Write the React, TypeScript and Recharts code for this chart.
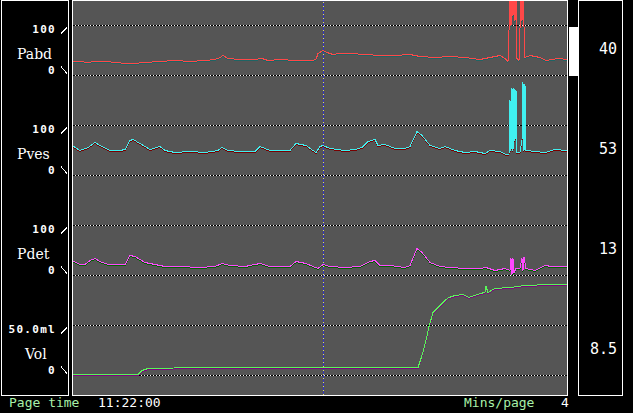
import { ComposedChart, Line, XAxis, YAxis, CartesianGrid, ReferenceLine } from 'recharts';

// time in seconds from page start (4 mins/page)
const pabdTime = [0, 4, 8, 11.5, 16.5, 22.5, 26.5, 30.5, 36.5, 44, 51.5, 59, 66.5, 71.5, 74, 75.5, 78, 84, 91.5, 95, 98, 104, 111.5, 120, 122, 123, 125.5, 127.5, 130.5, 134, 139, 146.5, 154, 161.5, 169, 174, 181.5, 189, 196.5, 204, 209, 214, 216.5, 218, 218.5, 219, 219.5, 220, 220.5, 221, 221.5, 222, 222.5, 223.5, 224.5, 225, 225.5, 226.5, 229, 234, 237, 240, 243, 247.5];
const pabdValues = [28, 28, 26, 28, 28, 26, 24, 24, 26, 28, 30, 28, 30, 32, 36, 40, 34, 32, 32, 34, 30, 32, 30, 30, 32, 44, 50, 46, 42, 44, 44, 42, 40, 40, 42, 38, 36, 38, 36, 32, 36, 40, 34, 28, 90, 160, 100, 160, 120, 160, 110, 160, 34, 30, 160, 110, 160, 36, 40, 36, 30, 32, 34, 32];

const pvesTime = [0, 4, 8, 11.5, 14, 19, 24, 26.5, 29, 30.5, 34, 39, 44, 46.5, 51.5, 59, 66.5, 73, 75, 78, 84, 91.5, 94, 99, 109, 112, 117, 120.5, 122, 124, 125.5, 129, 136.5, 141.5, 145, 148, 151.5, 153, 156.5, 161.5, 166.5, 169, 172.5, 175, 179, 184, 186.5, 191.5, 196.5, 201.5, 206.5, 209, 214, 217, 218.5, 219, 219.5, 220, 220.5, 221, 221.5, 222, 222.5, 224, 225, 225.5, 226, 226.5, 227, 231.5, 236.5, 241.5, 247.5];
const pvesValues = [60, 50, 56, 66, 60, 50, 50, 52, 70, 72, 64, 52, 58, 50, 46, 48, 46, 50, 56, 50, 48, 48, 58, 50, 50, 64, 60, 50, 46, 58, 60, 54, 50, 52, 56, 68, 72, 60, 62, 54, 54, 58, 88, 80, 60, 54, 58, 50, 46, 48, 44, 50, 48, 42, 42, 150, 50, 174, 50, 174, 70, 170, 46, 46, 70, 186, 50, 182, 50, 48, 46, 52, 50];

const pdetTime = [0, 4, 6.5, 9, 11.5, 14, 18, 26.5, 29, 31.5, 36.5, 41.5, 46.5, 54, 64, 71.5, 75, 79, 86.5, 94, 99, 109, 112, 117, 120.5, 123, 125.5, 129, 136.5, 144, 149, 151.5, 154, 159, 166.5, 169, 172.5, 175, 179, 184, 189, 196.5, 204, 207, 211.5, 216.5, 219, 219.5, 220, 220.5, 221, 222, 224, 225, 225.5, 226, 227, 231.5, 236.5, 240, 244, 247.5];
const pdetValues = [30, 22, 22, 30, 34, 28, 22, 22, 40, 38, 26, 22, 18, 18, 16, 18, 24, 20, 18, 24, 18, 18, 28, 24, 18, 14, 22, 18, 16, 18, 28, 30, 20, 20, 16, 20, 54, 46, 26, 18, 16, 14, 14, 16, 10, 14, 10, 34, 2, 34, 6, 14, 14, 34, 10, 36, 14, 10, 20, 18, 18, 18];

const volTime = [0, 19, 20, 33, 35, 38, 64, 114, 170, 173, 175, 177, 178.5, 180.5, 184, 186.5, 188.5, 191.5, 195.5, 198.5, 204, 206.5, 207, 208, 211.5, 219, 226.5, 239, 247.5];
const volValues = [1, 1, 0.5, 1, 5, 7, 8, 8, 8, 8, 20, 35, 49, 63, 70, 75, 78, 80, 81, 78, 82, 83, 89, 83, 87, 88, 90, 91, 91];

const channelNames = ['Pabd', 'Pves', 'Pdet', 'Vol'];
const rightValues = ['40', '53', '13', '8.5'];
const minuteTicks = [60, 120, 180, 240];
const cursorTime = 125.5;

const toPoints = (times: number[], values: number[]) => times.map((t, i) => ({ t, v: values[i] }));

const scaleFont = { fontFamily: 'DejaVu Sans Mono', fontWeight: 700, fontSize: 11, letterSpacing: 1.3 };
const nameFont = { fontFamily: 'DejaVu Serif', fontSize: 14 };
const statusFont = { fontFamily: 'DejaVu Sans Mono', fontSize: 13 };

const W = 633;
const H = 413;
const MARGIN = { top: 0, right: 66, bottom: 18, left: 72 };

// each channel owns a 100px band of the plot; domains chosen so the band's 0 line lands on its row
const bands = [
  { id: 'pabd', domain: [-639, 151], shift: 2 },
  { id: 'pves', domain: [-439, 351], shift: 2 },
  { id: 'pdet', domain: [-239, 551], shift: 2 },
  { id: 'vol', domain: [-19.5, 375.5], shift: 1 },
];

// upper tick label ("100", "50.0ml") sits under its line, "0" sits above
const scaleLabel = (text: string, upper: boolean, name?: string, nameDx?: number) => (props: any) => {
  const { x, y } = props.viewBox;
  return (
    <g>
      <text x={x - 16} y={upper ? y + 7.5 : y - 1.5} textAnchor="end" fill="#fff" style={scaleFont}>
        {text}
      </text>
      <line x1={x - 11} y1={upper ? y + 8 : y - 9} x2={x - 5} y2={upper ? y + 2 : y - 2} stroke="#fff" />
      {name && (
        <text x={x - (nameDx ?? 55)} y={y - 17} fill="#fff" style={nameFont}>
          {name}
        </text>
      )}
    </g>
  );
};

export default function App() {
  const pabd = toPoints(pabdTime, pabdValues);
  const pves = toPoints(pvesTime, pvesValues);
  const pdet = toPoints(pdetTime, pdetValues);
  const vol = toPoints(volTime, volValues);

  const traces = [
    { id: 'pabd', data: pabd, color: '#ff4848', shadow: '#1e6464' },
    { id: 'pves', data: pves, color: '#40f0f0', shadow: '#780000' },
    { id: 'pdet', data: pdet, color: '#ff48ff', shadow: '#006400' },
    { id: 'vol', data: vol, color: '#58f858', shadow: '#800080' },
  ];

  // shadowed copy of the band axes: same band, moved one pixel down
  const yAxes = (shadow: boolean) =>
    bands.map((b) => (
      <YAxis
        key={b.id}
        yAxisId={b.id}
        hide
        allowDataOverflow
        domain={shadow ? [b.domain[0] + b.shift, b.domain[1] + b.shift] : b.domain}
      />
    ));

  const grid = (axis: string, y: number, label: any) => [
    <ReferenceLine key={axis + y + 'b'} yAxisId={axis} y={y} stroke="#000" />,
    <ReferenceLine key={axis + y + 'w'} yAxisId={axis} y={y} stroke="#fff" strokeDasharray="1 2" label={label} />,
  ];

  const layer = { position: 'absolute' as const, left: 0, top: 0 };

  return (
    <div style={{ position: 'fixed', left: 0, top: 0, width: W, height: H, background: '#000', overflow: 'hidden' }}>
      <style>{`.recharts-surface { shape-rendering: crispEdges; }`}</style>

      {/* back layer: background, grid, cursor, trace shadows */}
      <div style={layer}>
        <ComposedChart width={W} height={H} margin={MARGIN}>
          <CartesianGrid horizontal={false} vertical={false} fill="#555555" stroke="none" />
          <XAxis
            type="number"
            dataKey="t"
            domain={[0, 247.5]}
            ticks={minuteTicks}
            height={0}
            mirror
            tickSize={3}
            tick={() => <g />}
            axisLine={{ stroke: '#fff' }}
            tickLine={{ stroke: '#fff' }}
            allowDataOverflow
          />
          {yAxes(false)}

          {grid('pabd', 100, scaleLabel('100', true))}
          {grid('pabd', 0, scaleLabel('0', false, channelNames[0]))}
          {grid('pves', 100, scaleLabel('100', true))}
          {grid('pves', 0, scaleLabel('0', false, channelNames[1]))}
          {grid('pdet', 100, scaleLabel('100', true))}
          {grid('pdet', 0, scaleLabel('0', false, channelNames[2]))}
          {grid('vol', 50, scaleLabel('50.0ml', true))}
          {grid('vol', 0, scaleLabel('0', false, channelNames[3], 47))}

          <ReferenceLine yAxisId="pabd" x={cursorTime} stroke="#3434c0" />
          <ReferenceLine yAxisId="pabd" x={cursorTime} stroke="#e0e060" strokeDasharray="1 3" />
        </ComposedChart>
      </div>

      <div style={layer}>
        <ComposedChart width={W} height={H} margin={MARGIN}>
          <XAxis type="number" dataKey="t" domain={[0, 247.5]} hide allowDataOverflow />
          {yAxes(true)}
          {traces.map((tr) => (
            <Line
              key={tr.id}
              yAxisId={tr.id}
              data={tr.data}
              dataKey="v"
              type="linear"
              stroke={tr.shadow}
              dot={false}
              isAnimationActive={false}
            />
          ))}
        </ComposedChart>
      </div>

      {/* front layer: the traces */}
      <div style={layer}>
        <ComposedChart width={W} height={H} margin={MARGIN}>
          <XAxis type="number" dataKey="t" domain={[0, 247.5]} hide allowDataOverflow />
          {yAxes(false)}
          {traces.map((tr) => (
            <Line
              key={tr.id}
              yAxisId={tr.id}
              data={tr.data}
              dataKey="v"
              type="linear"
              stroke={tr.color}
              dot={false}
              isAnimationActive={false}
            />
          ))}
        </ComposedChart>
      </div>

      {/* panel frames */}
      <div style={{ position: 'absolute', left: 1, top: 0, width: 68, height: 396, border: '1px solid #fff', boxSizing: 'border-box' }} />
      <div style={{ position: 'absolute', left: 72, top: 0, width: 496, height: 396, border: '1px solid #fff', boxSizing: 'border-box' }} />
      <div style={{ position: 'absolute', left: 569, top: 27, width: 9, height: 49, background: '#fff' }} />
      <div style={{ position: 'absolute', left: 578, top: 0, width: 45, height: 396, border: '1px solid #fff', boxSizing: 'border-box' }} />

      <svg width={W} height={H} style={layer}>
        {rightValues.map((v, i) => (
          <text key={v} x={617} y={54 + i * 100} textAnchor="end" fill="#fff" style={{ fontFamily: 'DejaVu Sans Mono', fontSize: 15 }}>
            {v}
          </text>
        ))}
        <text x={9} y={407} fill="#a8f0a8" style={statusFont}>Page time</text>
        <text x={98} y={407} fill="#fff" style={statusFont}>11:22:00</text>
        <text x={464} y={407} fill="#a8f0a8" style={statusFont}>Mins/page</text>
        <text x={561} y={407} fill="#fff" style={statusFont}>4</text>
      </svg>
    </div>
  );
}
